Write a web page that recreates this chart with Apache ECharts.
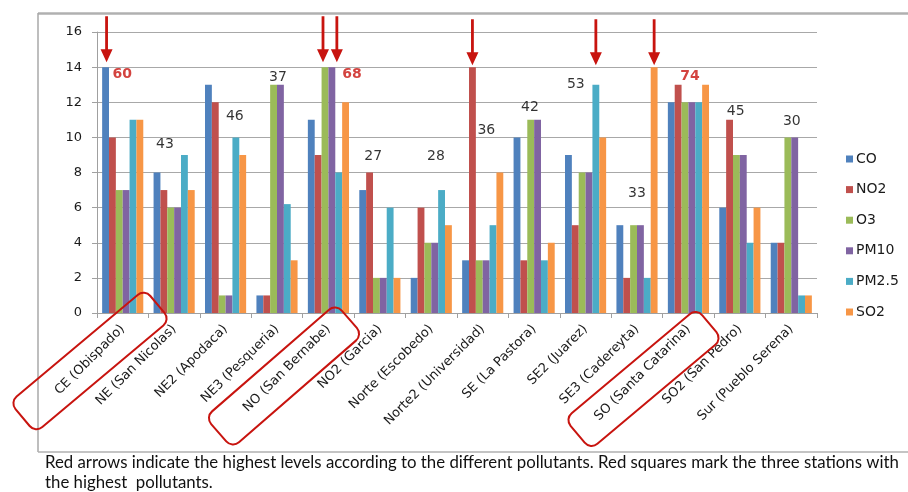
<!DOCTYPE html>
<html><head><meta charset="utf-8">
<script src="https://cdn.jsdelivr.net/npm/echarts@6/dist/echarts.min.js"></script>
<style>html,body{margin:0;padding:0;background:#fff}#c{width:908px;height:492px}</style>
</head><body><div id="c"></div>
<script>
// ---- data ----
const stations = ['CE (Obispado)','NE (San Nicolas)','NE2 (Apodaca)','NE3 (Pesqueria)','NO (San Bernabe)','NO2 (Garcia)','Norte (Escobedo)','Norte2 (Universidad)','SE (La Pastora)','SE2 (Juarez)','SE3 (Cadereyta)','SO (Santa Catarina)','SO2 (San Pedro)','Sur (Pueblo Serena)'];
const pollutants = ['CO','NO2','O3','PM10','PM2.5','SO2'];
const CO   = [14, 8, 13, 1, 11, 7, 2, 3, 10, 9, 5, 12, 6, 4];
const NO2  = [10, 7, 12, 1, 9, 8, 6, 14, 3, 5, 2, 13, 11, 4];
const O3   = [7, 6, 1, 13, 14, 2, 4, 3, 11, 8, 5, 12, 9, 10];
const PM10 = [7, 6, 1, 13, 14, 2, 4, 3, 11, 8, 5, 12, 9, 10];
const PM25 = [11, 9, 10, 6.2, 8, 6, 7, 5, 3, 13, 2, 12, 4, 1];
const SO2  = [11, 7, 9, 3, 12, 2, 5, 8, 4, 10, 14, 13, 6, 1];
const totals = [60, 43, 46, 37, 68, 27, 28, 36, 42, 53, 33, 74, 45, 30];
const yTicks = [0, 2, 4, 6, 8, 10, 12, 14, 16];
// highest-level arrows: [station index, pollutant]
const arrows = [[0,'CO'],[4,'O3'],[4,'PM10'],[7,'NO2'],[9,'PM2.5'],[10,'SO2']];
const caption1 = 'Red arrows indicate the highest levels according to the different pollutants. Red squares mark the three stations with';
const caption2 = 'the highest  pollutants.';

// ---- layout (not data) ----
const totalLabelPos = [[0.49,13.6],[1.32,9.6],[2.68,11.2],[3.52,13.4],[4.96,13.6],[5.37,8.9],[6.59,8.9],[7.57,10.4],[8.42,11.7],[9.31,13.0],[10.5,6.8],[11.53,13.5],[12.42,11.5],[13.51,10.9]];
const arrowTipLevel = 14;                     // arrows all end at the same height
const arrowDx = [1, -2, 5, 0, 0, 0];          // small horizontal nudges, per arrow
const arrowDy = [-28, -28, -28, -25, -25, -25];
const colors = ['#4F81BD','#C0504D','#9BBB59','#8064A2','#4BACC6','#F79646'];
const values = [CO, NO2, O3, PM10, PM25, SO2];
const top3 = totals.slice().sort((a,b)=>b-a).slice(0,3);
const red = '#C8140F';
const arrowPath = 'path://M4.6,0 L7.4,0 L7.4,33 L12,33 L6,46 L0,33 L4.6,33 Z';

const barSeries = pollutants.map((p, k) => ({
  name: p, type: 'bar', data: values[k],
  barGap: '0%', barCategoryGap: '20%',
  itemStyle: { color: colors[k] },
  markPoint: {
    silent: true,
    symbol: arrowPath, symbolSize: [12, 46], symbolKeepAspect: false,
    itemStyle: { color: red },
    label: { show: false },
    data: arrows.map((a, j) => [a, j]).filter(x => x[0][1] === p).map(x => ({
      coord: [x[0][0], arrowTipLevel],
      symbolOffset: [arrowDx[x[1]], arrowDy[x[1]]]
    }))
  }
}));

const totalSeries = {
  type: 'scatter', xAxisIndex: 1, yAxisIndex: 0, silent: true,
  symbolSize: 1, itemStyle: { color: 'rgba(0,0,0,0)' }, z: 5,
  label: { show: true, position: 'inside', formatter: p => String(p.value[2]),
    fontFamily: 'DejaVu Sans', fontSize: 14, color: '#000', textBorderWidth: 0 },
  data: totals.map((t, i) => {
    const d = { value: [totalLabelPos[i][0], totalLabelPos[i][1], t] };
    if (top3.includes(t)) d.label = { color: red, fontWeight: 'bold' };
    return d;
  })
};

function box(cx, cy, w, h, deg) {
  return { type: 'rect', x: cx, y: cy, rotation: deg * Math.PI / 180, z: 20, silent: true,
    shape: { x: -w/2, y: -h/2, width: w, height: h, r: 9 },
    style: { fill: 'none', stroke: red, lineWidth: 2 } };
}
function line(x1, y1, x2, y2, w, c) {
  return { type: 'line', z: 0, silent: true, shape: { x1, y1, x2, y2 }, style: { stroke: c, lineWidth: w } };
}

const chart = echarts.init(document.getElementById('c'), null, { renderer: 'canvas' });
chart.setOption({
  animation: false,
  backgroundColor: '#fff',
  color: colors,
  grid: { left: 97, right: 91, top: 32, bottom: 179, containLabel: false },
  legend: {
    data: pollutants, orient: 'vertical', left: 841, top: 146,
    icon: 'rect', itemWidth: 7, itemHeight: 7, itemGap: 14.6,
    textStyle: { fontFamily: 'DejaVu Sans', fontSize: 14, color: '#1a1a1a', lineHeight: 16, padding: [0,0,0,-2] },
    selectedMode: false
  },
  xAxis: [{
    type: 'category', data: stations,
    axisLine: { lineStyle: { color: '#a0a0a0', width: 1 } },
    axisTick: { show: true, length: 5, lineStyle: { color: '#a0a0a0' } },
    axisLabel: { interval: 0, rotate: 45, margin: 14, fontFamily: 'DejaVu Sans', fontSize: 13, color: '#1a1a1a' },
    splitLine: { show: false }
  }, {
    type: 'value', min: 0, max: 14, show: false
  }],
  yAxis: {
    type: 'value', min: yTicks[0], max: yTicks[yTicks.length-1], interval: 2,
    axisLine: { show: true, lineStyle: { color: '#a0a0a0' } },
    axisTick: { show: true, length: 5, lineStyle: { color: '#a0a0a0' } },
    axisLabel: { margin: 15, fontFamily: 'DejaVu Sans', fontSize: 13, color: '#1a1a1a' },
    splitLine: { show: true, lineStyle: { color: '#a8a8a8', width: 1 } }
  },
  series: barSeries.concat([totalSeries]),
  graphic: [
    line(38, 13.5, 908, 13.5, 2.5, '#b0b0b0'),
    line(38, 13, 38, 452, 1.5, '#a8a8a8'),
    line(38, 452, 908, 452, 1.5, '#b0b0b0'),
    box(90, 361, 176, 40, 40),
    box(284, 376, 173, 41, 41),
    box(643.5, 379, 172, 40, 40),
    { type: 'text', x: 45, y: 463, silent: true, style: { text: caption1, fill: '#111', font: '16.8px Lato', verticalAlign: 'middle' } },
    { type: 'text', x: 45, y: 482.5, silent: true, style: { text: caption2, fill: '#111', font: '16.8px Lato', verticalAlign: 'middle' } }
  ]
});
</script></body></html>
